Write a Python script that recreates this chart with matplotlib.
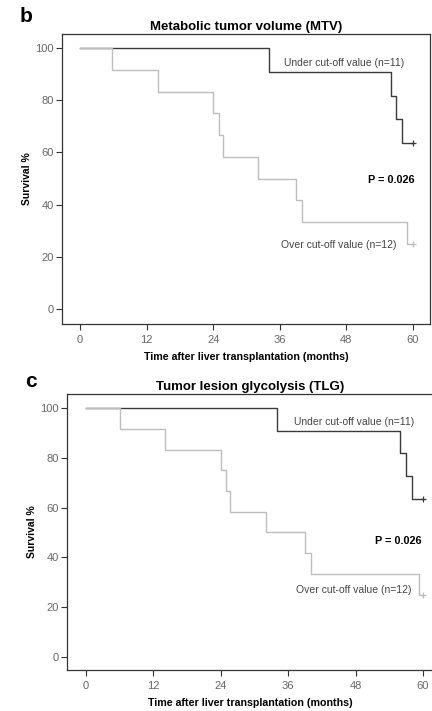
import matplotlib
matplotlib.use("Agg")
import matplotlib.pyplot as plt

plt.rcParams['font.family'] = ['Liberation Sans', 'DejaVu Sans']

# Panel b: MTV
mtv_under_t = [0, 34, 56, 57, 58, 60]
mtv_under_s = [100, 90.9, 81.8, 72.7, 63.6, 63.6]
mtv_over_t = [0, 5.8, 14, 24, 25, 25.7, 32, 39, 40, 59, 60]
mtv_over_s = [100, 91.7, 83.3, 75, 66.7, 58.3, 50, 41.7, 33.3, 25, 25]

# Panel c: TLG
tlg_under_t = [0, 34, 56, 57, 58, 60]
tlg_under_s = [100, 90.9, 81.8, 72.7, 63.6, 63.6]
tlg_over_t = [0, 6, 14, 24, 25, 25.7, 32, 39, 40, 59.3, 60]
tlg_over_s = [100, 91.7, 83.3, 75, 66.7, 58.3, 50, 41.7, 33.3, 25, 25]

xticks = [0, 12, 24, 36, 48, 60]
yticks = [0, 20, 40, 60, 80, 100]
p_text = "P = 0.026"
under_label = "Under cut-off value (n=11)"
over_label = "Over cut-off value (n=12)"

fig = plt.figure(figsize=(4.32, 7.11), dpi=100)

UNDER_C = '#3a3a3a'
OVER_C = '#bdbdbd'


def panel(rect, xlim, ylim, ut, us, ot, os_, title, letter, letter_xy,
          under_xy, p_xy, over_xy):
    ax = fig.add_axes(rect)
    ax.step(ut, us, where='post', color=UNDER_C, lw=1.0)
    ax.step(ot, os_, where='post', color=OVER_C, lw=1.0)
    ax.plot([ut[-1]], [us[-1]], marker='+', color=UNDER_C, ms=5, mew=0.9)
    ax.plot([ot[-1]], [os_[-1]], marker='+', color=OVER_C, ms=5, mew=0.9)
    ax.set_xlim(*xlim)
    ax.set_ylim(*ylim)
    ax.set_xticks(xticks)
    ax.set_yticks(yticks)
    ax.tick_params(axis='both', direction='out', length=4, width=0.8,
                   labelsize=8, labelcolor='#666666', color='#333333', pad=2)
    ax.tick_params(axis='x', pad=4)
    for s in ax.spines.values():
        s.set_color('#333333')
        s.set_linewidth(0.9)
    ax.set_title(title, fontsize=9.5, fontweight='bold', pad=3)
    ax.set_ylabel('Survival %', fontsize=7.5, fontweight='bold', labelpad=2)
    ax.set_xlabel('Time after liver transplantation (months)', fontsize=7.7,
                  fontweight='bold', labelpad=5)
    ax.text(under_xy[0], under_xy[1], under_label, fontsize=7.5, color='#444444',
            ha='right', va='center')
    ax.text(p_xy[0], p_xy[1], p_text, fontsize=7.8, fontweight='bold',
            ha='right', va='center')
    ax.text(over_xy[0], over_xy[1], over_label, fontsize=7.5, color='#444444',
            ha='right', va='center')
    fig.text(letter_xy[0], letter_xy[1], letter, fontsize=15, fontweight='bold',
             ha='left', va='center')
    return ax


panel([62/432, 1-324/711, (430-62)/432, (324-34)/711], (-3.24, 63.06), (-5.75, 105.4),
      mtv_under_t, mtv_under_s, mtv_over_t, mtv_over_s,
      'Metabolic tumor volume (MTV)', 'b', (20/432, 1-17/711),
      (58.5, 94.3), (60.3, 49.4), (57.1, 24.5))

panel([67/432, 1-670/711, (433-67)/432, (670-394)/711], (-3.4, 61.8), (-5.2, 105.6),
      tlg_under_t, tlg_under_s, tlg_over_t, tlg_over_s,
      'Tumor lesion glycolysis (TLG)', 'c', (25/432, 1-382/711),
      (58.5, 94.4), (59.8, 46.6), (57.9, 27.1))

fig.savefig('out.png', dpi=100)
